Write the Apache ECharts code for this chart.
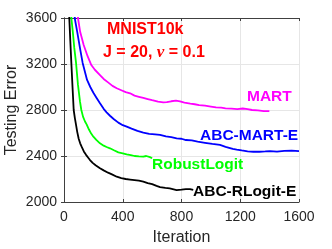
<!DOCTYPE html>
<html><head><meta charset="utf-8">
<script src="https://cdn.jsdelivr.net/npm/echarts@6/dist/echarts.min.js"></script>
<style>html,body{margin:0;padding:0;background:#fff}#c{width:332px;height:249px}</style>
</head><body><div id="c"></div>
<script>
const xTicks = [0, 400, 800, 1200, 1600];
const yTicks = [2000, 2400, 2800, 3200, 3600];

const martIter = [85, 95, 110, 134, 160, 186, 210, 245, 270, 300, 330, 359, 390, 420, 450, 480, 510, 540, 570, 600, 640, 676, 700, 730, 762, 790, 820, 860, 890, 920, 960, 1000, 1035, 1070, 1100, 1140, 1180, 1217, 1250, 1280, 1320, 1360, 1398];
const martVal  = [3720, 3600, 3480, 3365, 3270, 3191, 3150, 3104, 3070, 3040, 3010, 2989, 2972, 2955, 2945, 2925, 2915, 2905, 2895, 2885, 2872, 2866, 2868, 2876, 2882, 2874, 2864, 2855, 2850, 2843, 2838, 2830, 2823, 2820, 2815, 2812, 2808, 2813, 2808, 2800, 2797, 2790, 2791];

const abcMartIter = [65, 73, 90, 110, 127, 145, 157, 179, 200, 222, 245, 270, 290, 313, 340, 370, 400, 427, 460, 500, 540, 580, 620, 654, 694, 730, 767, 800, 830, 870, 910, 960, 1010, 1062, 1100, 1149, 1176, 1210, 1250, 1289, 1330, 1370, 1403, 1450, 1500, 1550, 1600];
const abcMartVal  = [3800, 3600, 3480, 3330, 3209, 3120, 3061, 3000, 2950, 2905, 2858, 2810, 2780, 2750, 2720, 2690, 2668, 2655, 2638, 2618, 2603, 2593, 2588, 2583, 2570, 2565, 2554, 2550, 2539, 2535, 2525, 2515, 2505, 2496, 2480, 2461, 2455, 2448, 2440, 2437, 2437, 2440, 2443, 2438, 2444, 2446, 2443];

const robustIter = [45, 50, 60, 70, 82, 95, 109, 118, 130, 143, 154, 170, 185, 200, 220, 245, 270, 290, 313, 340, 370, 400, 427, 455, 480, 510, 540, 560, 572, 585, 600];
const robustVal  = [3800, 3600, 3480, 3340, 3209, 3020, 2872, 2800, 2740, 2700, 2675, 2630, 2595, 2568, 2540, 2510, 2490, 2478, 2467, 2450, 2432, 2423, 2415, 2408, 2400, 2396, 2394, 2400, 2404, 2390, 2380];

const abcRlogitIter = [30, 36, 43, 50, 58, 66, 74, 82, 90, 100, 110, 120, 135, 150, 165, 177, 195, 215, 245, 270, 300, 330, 359, 390, 420, 450, 480, 510, 540, 570, 600, 630, 654, 690, 720, 767, 800, 830, 858, 880];
const abcRlogitVal  = [3800, 3600, 3400, 3209, 3000, 2800, 2730, 2670, 2610, 2550, 2510, 2481, 2440, 2410, 2385, 2365, 2340, 2320, 2293, 2275, 2255, 2238, 2220, 2208, 2200, 2195, 2190, 2185, 2177, 2165, 2155, 2140, 2130, 2122, 2118, 2104, 2108, 2112, 2112, 2105];

const pair = (a, b) => a.map((v, i) => [v, b[i]]);
const FONT = '"Liberation Sans", Arial, Helvetica, sans-serif';
const AX = '#404040';

const chart = echarts.init(document.getElementById('c'), null, {renderer: 'canvas'});
const mkSeries = (name, it, val, color) => ({
  name, type: 'line', data: pair(it, val), showSymbol: false, clip: true,
  lineStyle: {color, width: 1.8}, itemStyle: {color}, animation: false, z: 3
});

chart.setOption({
  animation: false,
  grid: {left: 64, right: 33, top: 18, bottom: 47, containLabel: false, outerBoundsMode: 'none'},
  xAxis: [{
    type: 'value', min: xTicks[0], max: xTicks[xTicks.length - 1], interval: 400,
    name: 'Iteration', nameLocation: 'middle', nameGap: 28, nameMoveOverlap: false,
    nameTextStyle: {fontFamily: FONT, fontSize: 16, color: '#262626'},
    axisLine: {show: true, lineStyle: {color: AX, width: 1}},
    axisTick: {show: true, inside: true, length: 3, lineStyle: {color: AX}},
    axisLabel: {fontFamily: FONT, fontSize: 14, color: '#262626', margin: 8, formatter: v => String(v)},
    splitLine: {show: true, lineStyle: {color: '#e6e6e6', width: 1}}
  }, {
    type: 'value', position: 'top', min: xTicks[0], max: xTicks[xTicks.length - 1], interval: 400,
    axisLine: {show: true, lineStyle: {color: AX, width: 1}},
    axisTick: {show: true, inside: true, length: 3, lineStyle: {color: AX}},
    axisLabel: {show: false}, splitLine: {show: false}
  }],
  yAxis: [{
    type: 'value', min: yTicks[0], max: yTicks[yTicks.length - 1], interval: 400,
    name: 'Testing Error', nameLocation: 'middle', nameGap: 44, nameMoveOverlap: false,
    nameTextStyle: {fontFamily: FONT, fontSize: 16, color: '#262626'},
    axisLine: {show: true, lineStyle: {color: AX, width: 1}},
    axisTick: {show: true, inside: true, length: 3, lineStyle: {color: AX}},
    axisLabel: {fontFamily: FONT, fontSize: 14, color: '#262626', margin: 7, formatter: v => String(v)},
    splitLine: {show: true, lineStyle: {color: '#e6e6e6', width: 1}}
  }, {
    type: 'value', position: 'right', min: yTicks[0], max: yTicks[yTicks.length - 1], interval: 400,
    axisLine: {show: true, lineStyle: {color: AX, width: 1}},
    axisTick: {show: true, inside: true, length: 3, lineStyle: {color: AX}},
    axisLabel: {show: false}, splitLine: {show: false}
  }],
  series: [
    mkSeries('MART', martIter, martVal, '#ff00ff'),
    mkSeries('ABC-MART-E', abcMartIter, abcMartVal, '#0000ff'),
    mkSeries('RobustLogit', robustIter, robustVal, '#00ff00'),
    mkSeries('ABC-RLogit-E', abcRlogitIter, abcRlogitVal, '#000000')
  ],
  graphic: [
    {type: 'text', left: 107, top: 22, z: 10, style: {text: 'MNIST10k', fill: '#ff0000', font: 'bold 16px ' + FONT}},
    {type: 'text', left: 103, top: 44, z: 10, style: {
      text: '{a|J = 20, }{nu|ν}{a| = 0.1}',
      rich: {
        a: {fill: '#ff0000', fontFamily: FONT, fontWeight: 'bold', fontSize: 16},
        nu: {fill: '#ff0000', fontFamily: '"Liberation Serif", "Times New Roman", serif', fontStyle: 'italic', fontWeight: 'bold', fontSize: 17}
      }}},
    {type: 'text', left: 247, top: 89, z: 10, style: {text: 'MART', fill: '#ff00ff', font: 'bold 15.5px ' + FONT}},
    {type: 'text', left: 200, top: 128, z: 10, style: {text: 'ABC-MART-E', fill: '#0000ff', font: 'bold 15.5px ' + FONT}},
    {type: 'text', left: 152, top: 157, z: 10, style: {text: 'RobustLogit', fill: '#00ff00', font: 'bold 15.5px ' + FONT}},
    {type: 'text', left: 193, top: 184, z: 10, style: {text: 'ABC-RLogit-E', fill: '#000000', font: 'bold 15.5px ' + FONT}}
  ]
});
</script></body></html>
